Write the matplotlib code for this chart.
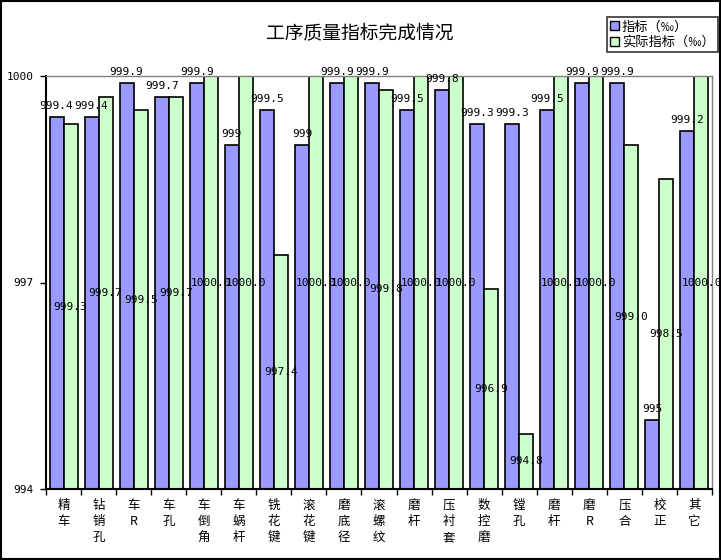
import matplotlib
matplotlib.use('Agg')
import matplotlib.pyplot as plt
from matplotlib.patches import Rectangle, Patch
import numpy as np

plt.rcParams['font.family'] = ['Noto Sans CJK SC', 'DejaVu Sans']

categories = ['精车', '钻销孔', '车R', '车孔', '车倒角', '车蜗杆', '铣花键', '滚花键', '磨底径',
              '滚螺纹', '磨杆', '压衬套', '数控磨', '镗孔', '磨杆', '磨R', '压合', '校正', '其它']
target = [999.4, 999.4, 999.9, 999.7, 999.9, 999, 999.5, 999, 999.9, 999.9,
          999.5, 999.8, 999.3, 999.3, 999.5, 999.9, 999.9, 995, 999.2]
actual = [999.3, 999.7, 999.5, 999.7, 1000.0, 1000.0, 997.4, 1000.0, 1000.0, 999.8,
          1000.0, 1000.0, 996.9, 994.8, 1000.0, 1000.0, 999.0, 998.5, 1000.0]
series_names = ['指标（‰）', '实际指标（‰）']
title = '工序质量指标完成情况'
yticks = [994, 997, 1000]

blue = '#9999FF'
green = '#CCFFCC'
base = yticks[0]
top = yticks[-1]

fig = plt.figure(figsize=(7.21, 5.60), dpi=100)
ax = fig.add_axes([46 / 721, 1 - 489 / 560, (712 - 46) / 721, (489 - 76) / 560])

x = np.arange(len(categories))
w = 0.4
ax.bar(x - w / 2, np.array(target) - base, bottom=base, width=w, color=blue,
       edgecolor='black', linewidth=1.2)
ax.bar(x + w / 2, np.array(actual) - base, bottom=base, width=w, color=green,
       edgecolor='black', linewidth=1.2)

numfont = dict(family='DejaVu Sans Mono', fontsize=8)
for xi, v in zip(x, target):
    ax.annotate(f'{v:g}', (xi - w / 2, v), xytext=(0, 8), textcoords='offset points',
                ha='center', va='center', clip_on=False, **numfont)
for xi, v in zip(x, actual):
    ax.text(xi + w / 2, (base + v) / 2, f'{v:.1f}', ha='center', va='center', **numfont)

ax.set_xlim(-0.5, len(categories) - 0.5)
ax.set_ylim(base, top)
ax.set_yticks(yticks)
ax.set_yticklabels([str(t) for t in yticks], **numfont)
ax.set_xticks(x)
ax.set_xticklabels(['\n'.join(list(c)) for c in categories], fontsize=9, linespacing=1.32, va='top')
ax.set_xticks(np.arange(-0.5, len(categories)), minor=True)
ax.tick_params(axis='x', which='major', length=0, pad=7)
ax.tick_params(axis='x', which='minor', length=4, direction='out', width=1)
ax.tick_params(axis='y', which='major', length=4, direction='out', width=1, pad=5)

for s in ['top', 'right']:
    ax.spines[s].set_color('#808080')
    ax.spines[s].set_linewidth(1)
for s in ['left', 'bottom']:
    ax.spines[s].set_color('black')
    ax.spines[s].set_linewidth(1.5)

fig.text(360 / 721, 1 - 34 / 560, title, ha='center', va='center', fontsize=13.5)

handles = [Patch(facecolor=blue, edgecolor='black'), Patch(facecolor=green, edgecolor='black')]
leg = fig.legend(handles, series_names, loc='upper right', bbox_to_anchor=(718 / 721, 1 - 17 / 560),
                 frameon=True, fancybox=False, edgecolor='black', fontsize=9.5,
                 handlelength=0.7, handleheight=0.7, handletextpad=0.2, labelspacing=0.2,
                 borderpad=0.25, borderaxespad=0)
leg.get_frame().set_linewidth(1.2)

fig.patches.append(Rectangle((0.001, 0.001), 0.997, 0.997, transform=fig.transFigure,
                             fill=False, edgecolor='black', linewidth=1.5))

fig.savefig('out.png', dpi=100)
